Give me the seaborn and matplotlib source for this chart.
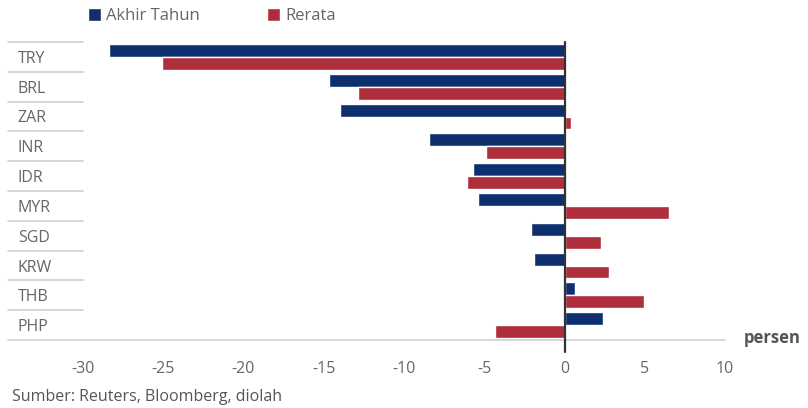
import numpy as np
import pandas as pd
import matplotlib
matplotlib.use("Agg")
import matplotlib.pyplot as plt
import seaborn as sns
from matplotlib.patches import Patch

currencies = ["TRY", "BRL", "ZAR", "INR", "IDR", "MYR", "SGD", "KRW", "THB", "PHP"]
akhir_tahun = [-28.4, -14.7, -14.0, -8.45, -5.7, -5.4, -2.1, -1.9, 0.65, 2.4]
rerata = [-25.1, -12.85, 0.4, -4.9, -6.1, 6.5, 2.3, 2.75, 4.95, -4.35]
series_names = ["Akhir Tahun", "Rerata"]
x_ticks = [-30, -25, -20, -15, -10, -5, 0, 5, 10]

df = pd.DataFrame({
    "currency": currencies * 2,
    "series": [series_names[0]] * len(currencies) + [series_names[1]] * len(currencies),
    "value": akhir_tahun + rerata,
})

BLUE = "#0d2f6e"
RED = "#ae2f3b"
GRAY_TXT = "#666666"
LINE_GRAY = "#cfcfcf"

sns.set_style("white")
plt.rcParams["font.family"] = ["Open Sans", "DejaVu Sans"]

W, H = 808, 408
fig = plt.figure(figsize=(W / 100, H / 100), dpi=100)
L, R, T, B = 83, 725, 42, 340
ax = fig.add_axes([L / W, 1 - B / H, (R - L) / W, (B - T) / H])

sns.barplot(data=df, y="currency", x="value", hue="series", order=currencies,
            hue_order=series_names, palette=[BLUE, RED], orient="h",
            width=0.86, saturation=1, ax=ax, legend=False)

ax.set_xlim(-30, 10)
ax.set_ylim(len(currencies) - 0.5, -0.5)
ax.set_xticks(x_ticks)
ax.set_xticklabels([str(t) for t in x_ticks])
ax.set_xlabel("")
ax.set_ylabel("")
for s in ax.spines.values():
    s.set_visible(False)

ax.tick_params(axis="x", direction="out", length=7, width=1, color=LINE_GRAY,
               labelsize=11.5, labelcolor=GRAY_TXT, pad=8)
ax.tick_params(axis="y", length=0, labelsize=11.5, labelcolor=GRAY_TXT, pad=47)
for lab in ax.get_yticklabels():
    lab.set_horizontalalignment("left")

# separators in label column
ytr = ax.get_yaxis_transform()
x0 = (8 - L) / (R - L)
for yb in np.arange(-0.5, len(currencies) - 0.5, 1.0):
    ax.plot([x0, 0], [yb, yb], transform=ytr, color=LINE_GRAY, lw=1.2, clip_on=False)
ax.plot([x0, 1], [len(currencies) - 0.5] * 2, transform=ytr, color=LINE_GRAY, lw=1.2, clip_on=False)

# zero line
ax.axvline(0, ymin=-12 / (B - T), ymax=1, color="#333333", lw=1.6, clip_on=False, zorder=5)

# persen label
fig.text(744 / W, 1 - 338 / H, "persen", fontsize=12, fontweight="bold", color="#555555",
         ha="left", va="center")

# legend
handles = [Patch(facecolor=BLUE), Patch(facecolor=RED)]
fig.legend(handles, series_names, loc="center left", bbox_to_anchor=(73 / W, 1 - 16 / H),
           ncol=2, frameon=False, handlelength=0.8, handleheight=0.8, handletextpad=0.3,
           columnspacing=4.0, fontsize=12, labelcolor=GRAY_TXT)

fig.text(12 / W, 1 - 397 / H, "Sumber: Reuters, Bloomberg, diolah", fontsize=11.5,
         color="#555555", ha="left", va="center")

fig.savefig("out.png", dpi=100, facecolor="white")
